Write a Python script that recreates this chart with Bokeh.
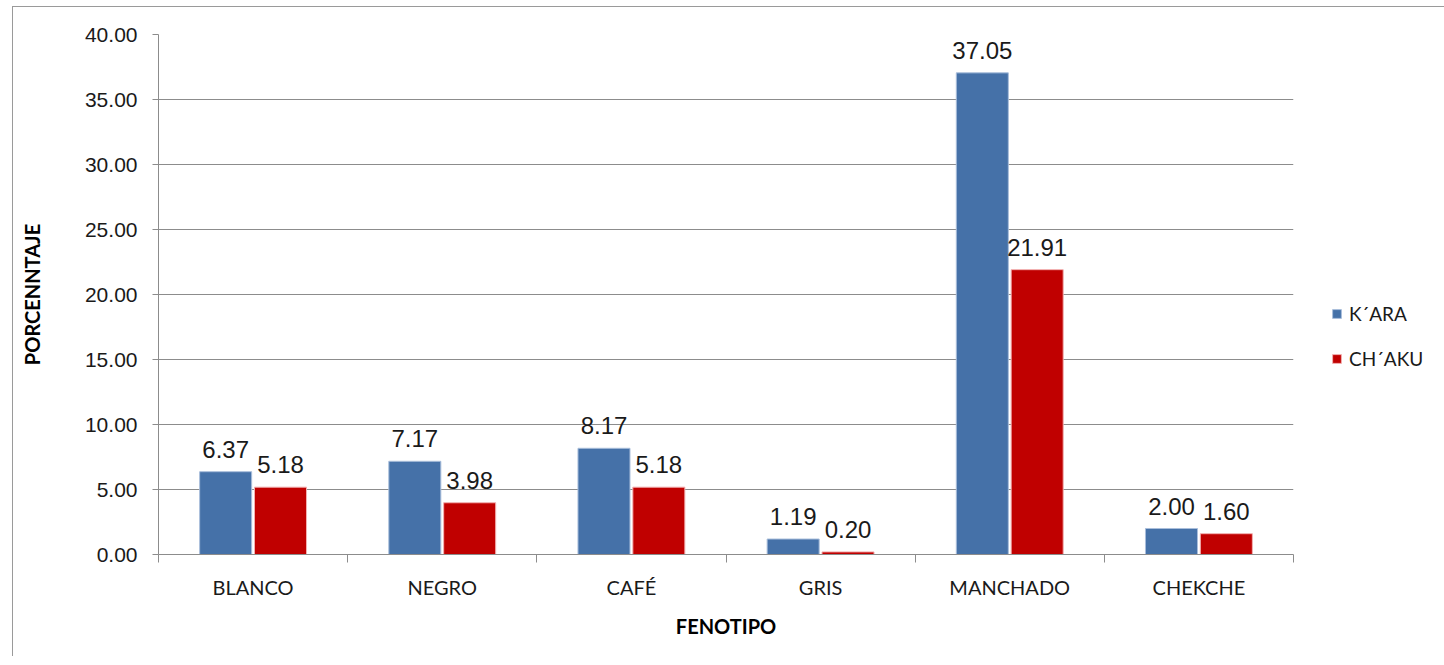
from bokeh.plotting import figure
from bokeh.models import ColumnDataSource, FixedTicker, Legend, LegendItem, Range1d, CustomJSTickFormatter
from bokeh.core.properties import value
from bokeh.embed import file_html
from bokeh.resources import INLINE

categories = ["BLANCO", "NEGRO", "CAFÉ", "GRIS", "MANCHADO", "CHEKCHE"]
kara = [6.37, 7.17, 8.17, 1.19, 37.05, 2.00]
chaku = [5.18, 3.98, 5.18, 0.20, 21.91, 1.60]
series_names = ["K´ARA", "CH´AKU"]
y_ticks = [0, 5, 10, 15, 20, 25, 30, 35, 40]

BLUE = "#4571A8"
RED = "#C00000"
GRID = "#8C8C8C"

n = len(categories)
centers = [i + 0.5 for i in range(n)]
bw = 0.275
off = 0.145

src_k = ColumnDataSource(dict(x=[c - off for c in centers], top=kara,
                              lab=["%.2f" % v for v in kara]))
src_c = ColumnDataSource(dict(x=[c + off for c in centers], top=chaku,
                              lab=["%.2f" % v for v in chaku]))

p = figure(frame_width=1135, frame_height=520, output_backend="svg", toolbar_location=None,
           x_range=Range1d(0, n), y_range=Range1d(0, 40),
           min_border_left=145, min_border_right=140, min_border_top=27,
           min_border_bottom=102)
p.styles = {"border-left": "1px solid #9a9a9a", "border-top": "1px solid #9a9a9a",
            "margin-left": "12px", "margin-top": "6px"}
p.outline_line_color = None
p.background_fill_color = "white"
p.border_fill_color = "white"

rk = p.vbar(x="x", top="top", width=bw, source=src_k, fill_color=BLUE,
            line_color="#A9BEDB", line_width=1)
rc = p.vbar(x="x", top="top", width=bw, source=src_c, fill_color=RED,
            line_color="#F2B0B0", line_width=1)

for s in (src_k, src_c):
    p.text(x="x", y="top", text="lab", source=s, text_align="center",
           text_baseline="bottom", y_offset=-14, text_font=value("Liberation Sans"),
           text_font_size="24px", text_color="#1a1a1a")

# y axis
p.yaxis.ticker = FixedTicker(ticks=y_ticks)
p.yaxis.formatter = CustomJSTickFormatter(code="return tick.toFixed(2);")
p.yaxis.axis_line_color = GRID
p.yaxis.major_tick_line_color = GRID
p.yaxis.major_tick_out = 6
p.yaxis.major_tick_in = 0
p.yaxis.minor_tick_line_color = None
p.yaxis.major_label_standoff = 15
p.yaxis.major_label_text_font = "Liberation Sans"
p.yaxis.major_label_text_font_size = "21px"
p.yaxis.major_label_text_color = "#1a1a1a"
p.yaxis.axis_label = "PORCENNTAJE"
p.yaxis.axis_label_text_font = "Lato"
p.yaxis.axis_label_text_font_style = "bold"
p.yaxis.axis_label_text_font_size = "20px"
p.yaxis.axis_label_text_color = "#000000"
p.yaxis.axis_label_standoff = 38

# x axis
p.xaxis.ticker = FixedTicker(ticks=centers, minor_ticks=list(range(n + 1)))
p.xaxis.major_label_overrides = {c: categories[i] for i, c in enumerate(centers)}
p.xaxis.axis_line_color = GRID
p.xaxis.major_tick_line_color = None
p.xaxis.major_tick_out = 0
p.xaxis.major_tick_in = 0
p.xaxis.minor_tick_line_color = GRID
p.xaxis.minor_tick_out = 8
p.xaxis.minor_tick_in = 0
p.xaxis.major_label_standoff = 12
p.xaxis.major_label_text_font = "Lato"
p.xaxis.major_label_text_font_size = "20px"
p.xaxis.major_label_text_color = "#1a1a1a"
p.xaxis.axis_label = "FENOTIPO"
p.xaxis.axis_label_text_font = "Lato"
p.xaxis.axis_label_text_font_style = "bold"
p.xaxis.axis_label_text_font_size = "20px"
p.xaxis.axis_label_text_color = "#000000"
p.xaxis.axis_label_standoff = 12

p.xgrid.grid_line_color = None
p.ygrid.ticker = FixedTicker(ticks=y_ticks)
p.ygrid.grid_line_color = GRID
p.ygrid.grid_line_width = 1

legend = Legend(items=[LegendItem(label=series_names[0], renderers=[rk]),
                       LegendItem(label=series_names[1], renderers=[rc])],
                location=(38, 184), orientation="vertical")
legend.border_line_color = None
legend.background_fill_alpha = 0
legend.glyph_width = 11
legend.glyph_height = 11
legend.spacing = 22
legend.margin = 0
legend.padding = 10
legend.label_text_font = "Lato"
legend.label_text_font_size = "19px"
legend.label_text_color = "#1a1a1a"
legend.label_standoff = 7
p.add_layout(legend, "right")

open("out.html", "w").write(file_html(p, INLINE))
